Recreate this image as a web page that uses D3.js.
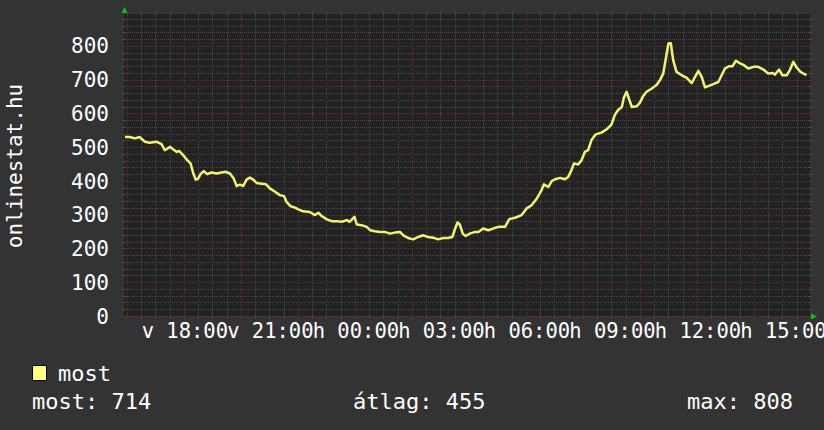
<!DOCTYPE html>
<html><head><meta charset="utf-8">
<script src="https://cdn.jsdelivr.net/npm/d3@7"></script>
<style>html,body{margin:0;padding:0;background:#333333;} svg{display:block}</style>
</head><body><svg id="c" width="824" height="430"></svg>
<script>
// ---- data ----
const times = ["15:56","16:06","16:17","16:27","16:38","16:48","17:03","17:13","17:20","17:31","17:38","17:45","17:50","17:59","18:06","18:14","18:20","18:25","18:30","18:35","18:42","18:49","18:58","19:09","19:19","19:28","19:37","19:45","19:51","19:58","20:05","20:12","20:19","20:26","20:33","20:44","20:53","21:01","21:12","21:22","21:31","21:36","21:45","21:54",
"22:01","22:11","22:25","22:36","22:43","22:50","23:00","23:11","23:21","23:32","23:43","23:49","23:59","00:04","00:14","00:25","00:32","00:42","00:53","01:03","01:14","01:24","01:35","01:42","01:52","02:03","02:13","02:24","02:34","02:45","02:55","03:06","03:16","03:25","03:31","03:36","03:41","03:47","03:53","04:02","04:13",
"04:20","04:30","04:41","04:51","05:02","05:16","05:25","05:37","05:51","06:01","06:12","06:23","06:33","06:38","06:47","06:54","07:01","07:12","07:22","07:29","07:36","07:41","07:50","07:57","08:04","08:11","08:18","08:27","08:39","08:50","09:00","09:07","09:14","09:22","09:26","09:32","09:38","09:43","09:53","10:00",
"10:07","10:14","10:25","10:35","10:42","10:49","10:54","11:00","11:05","11:10","11:17","11:28","11:38","11:49","11:56","12:03","12:10","12:17","12:24","12:34","12:45","12:52","12:59","13:08","13:15","13:22","13:31","13:39","13:48","13:59","14:09","14:20","14:30","14:39","14:44","14:53","15:00","15:09","15:16","15:23","15:30","15:38","15:47","15:51"];
const values = [530,530,526,530,516,513,516,509,491,501,493,486,489,476,463,452,422,404,407,420,429,420,425,422,425,427,422,407,385,389,385,404,410,404,394,392,390,378,368,358,355,338,325,321,
316,310,308,299,306,296,287,281,281,279,284,279,294,271,269,264,254,251,249,249,244,247,249,239,231,227,234,239,234,232,227,231,231,234,259,277,271,244,237,244,249,
249,259,254,259,264,264,287,291,299,318,328,348,373,390,382,399,405,409,405,412,432,452,449,461,486,491,521,538,543,553,567,595,610,619,646,664,639,619,621,632,
652,664,674,684,698,718,758,807,808,758,723,713,706,690,708,726,708,677,681,687,693,713,733,740,740,756,748,743,733,738,738,730,718,720,715,730,713,713,730,753,736,723,716,714];
const yTicks = [0,100,200,300,400,500,600,700,800];
const xTickTimes = ["18:00","21:00","00:00","03:00","06:00","09:00","12:00","15:00"];
const dayAbbr = ["v","h","k","sze","cs","p","szo"];
const yTitle = "onlinestat.hu";
const seriesName = ["most"];
const statNames = ["most","átlag","max"];
const statValues = [714,455,808];

// ---- layout ----
const L = 124, R = 810, T = 14, B = 316;
const t0 = new Date(2013,0,6,15,54), t1 = new Date(2013,0,7,15,58);
function parseSeq(arr){
  let day = 6, prev = -1;
  return arr.map(s => { const [h,m] = s.split(":").map(Number); const mm = h*60+m;
    if (mm < prev) day++; prev = mm; return new Date(2013,0,day,h,m); });
}
const dates = parseSeq(times);
const tickDates = parseSeq(["15:55"].concat(xTickTimes)).slice(1);
const data = dates.map((d,i)=>({d, v: values[i]}));

const x = d3.scaleTime().domain([t0,t1]).range([L,R]);
const y = d3.scaleLinear().domain([0,894.5]).range([B,T]);

const svg = d3.select("#c");
svg.append("rect").attr("width",824).attr("height",430).attr("fill","#333333");
svg.append("rect").attr("x",L).attr("y",T).attr("width",R-L).attr("height",B-T).attr("fill","#222222");

const minorC = "#484848", majorC = "#603030";
const g = svg.append("g").attr("shape-rendering","crispEdges");
// horizontal grid
d3.range(0, 894, 20).forEach(v => {
  const yy = Math.round(y(v)) + 0.5; const major = v % 100 === 0;
  g.append("line").attr("x1",L).attr("x2",R).attr("y1",yy).attr("y2",yy)
    .attr("stroke", major?majorC:minorC).attr("stroke-dasharray","1,1");
  g.append("line").attr("x1",L-2).attr("x2",L+2).attr("y1",yy).attr("y2",yy).attr("stroke", major?majorC:minorC);
  g.append("line").attr("x1",R-2).attr("x2",R+2).attr("y1",yy).attr("y2",yy).attr("stroke", major?majorC:minorC);
});
// vertical grid
d3.timeMinute.every(30).range(t0,t1).forEach(d => {
  const xx = Math.round(x(d)) + 0.5; const major = d.getMinutes()===0 && d.getHours()%2===0;
  g.append("line").attr("x1",xx).attr("x2",xx).attr("y1",T).attr("y2",B)
    .attr("stroke", major?majorC:minorC).attr("stroke-dasharray","1,1");
  g.append("line").attr("x1",xx).attr("x2",xx).attr("y1",B-2).attr("y2",B+2).attr("stroke", major?majorC:minorC);
  g.append("line").attr("x1",xx).attr("x2",xx).attr("y1",T-2).attr("y2",T+2).attr("stroke", major?majorC:minorC);
});

// arrows
svg.append("path").attr("d",`M${L+0.5},${T-7} L${L+3.5},${T-1} L${L-2.5},${T-1} Z`).attr("fill","#00cc00");
svg.append("path").attr("d",`M${R+7},${B+0.5} L${R+1},${B+3.5} L${R+1},${B-2.5} Z`).attr("fill","#00cc00");

// line
svg.append("path").datum(data)
  .attr("d", d3.line().x(p=>x(p.d)).y(p=>y(p.v)))
  .attr("fill","none").attr("stroke","#f4f46a").attr("stroke-width",2.5).attr("stroke-linejoin","round");

const font = "'DejaVu Sans Mono', monospace";
// y axis labels
svg.append("g").selectAll("text").data(yTicks).join("text")
  .attr("x",109).attr("y",v=>y(v)).attr("dy","0.36em").attr("text-anchor","end")
  .attr("font-family",font).attr("font-size",21).attr("fill","#ffffff").text(v=>v);
// x axis labels
svg.append("g").selectAll("text").data(tickDates).join("text")
  .attr("x",d=>x(d)+1).attr("y",338).attr("text-anchor","middle")
  .attr("font-family",font).attr("font-size",20.5).attr("fill","#ffffff")
  .text(d=>dayAbbr[d.getDay()]+" "+d3.timeFormat("%H:%M")(d));
// y title
svg.append("text").attr("transform","translate(22,166) rotate(-90)").attr("text-anchor","middle")
  .attr("font-family",font).attr("font-size",21).attr("fill","#ffffff").text(yTitle);

// legend
svg.append("rect").attr("x",32.5).attr("y",365.5).attr("width",14).attr("height",15)
  .attr("fill","#ffff80").attr("stroke","#000000");
svg.append("text").attr("x",58).attr("y",381).attr("font-family",font).attr("font-size",22)
  .attr("fill","#ffffff").text(seriesName[0]);
const statX = [32, 353, 687];
svg.append("g").selectAll("text").data(statNames).join("text")
  .attr("x",(d,i)=>statX[i]).attr("y",409).attr("font-family",font).attr("font-size",22)
  .attr("fill","#ffffff").text((d,i)=>d+": "+statValues[i]);
</script></body></html>
